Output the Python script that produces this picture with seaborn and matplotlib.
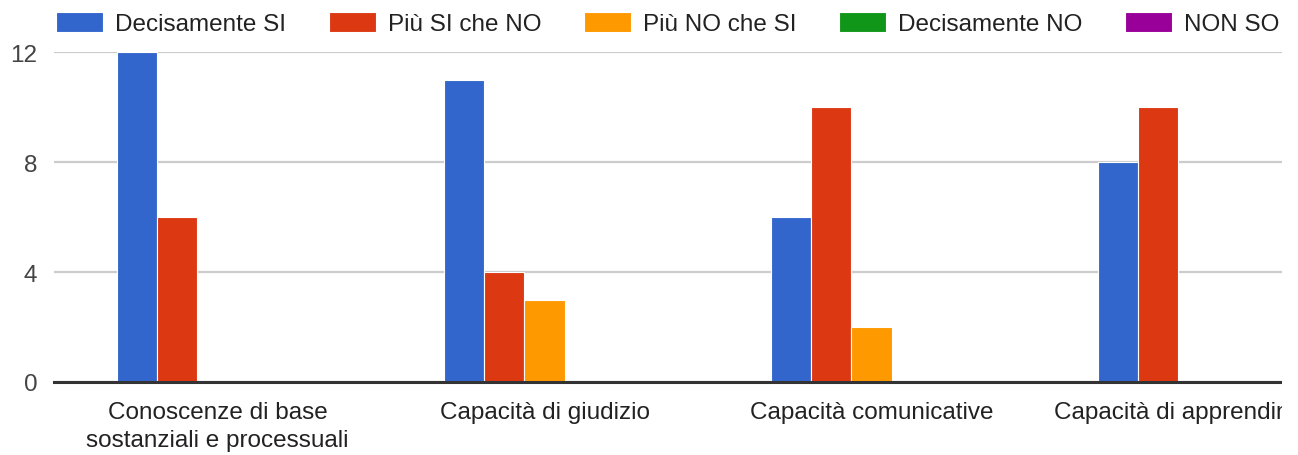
import matplotlib
matplotlib.use("Agg")
import matplotlib.pyplot as plt
from matplotlib.patches import Rectangle
import pandas as pd
import seaborn as sns

categories = ["Conoscenze di base\nsostanziali e processuali", "Capacità di giudizio",
              "Capacità comunicative", "Capacità di apprendimento"]
series = ["Decisamente SI", "Più SI che NO", "Più NO che SI", "Decisamente NO", "NON SO"]
decisamente_si = [12, 11, 6, 8]
piu_si = [6, 4, 10, 10]
piu_no = [0, 3, 2, 0]
decisamente_no = [0, 0, 0, 0]
non_so = [0, 0, 0, 0]
colors = ["#3366CC", "#DC3912", "#FF9900", "#109618", "#990099"]

values = [decisamente_si, piu_si, piu_no, decisamente_no, non_so]
df = pd.DataFrame([(c, s, v[i]) for s, v in zip(series, values)
                   for i, c in enumerate(categories)],
                  columns=["cat", "serie", "count"])

sns.set_theme(style="white")
plt.rcParams["font.family"] = ["Liberation Sans", "DejaVu Sans"]

W, H = 1298, 456
FS = 17.5
fig = plt.figure(figsize=(W / 100, H / 100), dpi=100)
# the original chart is cut on the right edge, so the axes run past the figure
ax = fig.add_axes([54 / W, 73 / H, 1308 / W, 330 / H])

sns.barplot(data=df, x="cat", y="count", hue="serie", order=categories,
            hue_order=series, palette=colors, width=0.612, ax=ax,
            edgecolor="white", linewidth=0.8, saturation=1, errorbar=None)

ax.set_xlim(-0.5, 3.5)
ax.set_ylim(0, 12)
ax.set_yticks([0, 4, 8, 12])
ax.set_xlabel("")
ax.set_ylabel("")
ax.yaxis.grid(True, color="#cccccc", linewidth=1.6)
ax.set_axisbelow(True)
for side in ["top", "right", "left"]:
    ax.spines[side].set_visible(False)
ax.spines["bottom"].set_color("#333333")
ax.spines["bottom"].set_linewidth(2.2)
ax.spines["bottom"].set_zorder(5)
ax.tick_params(axis="y", length=0, pad=12, labelsize=FS, labelcolor="#444444")
ax.tick_params(axis="x", length=0, pad=14, labelsize=FS, labelcolor="#222222")
for lab in ax.get_xticklabels():
    lab.set_linespacing(1.35)

handles, labels = ax.get_legend_handles_labels()
ax.get_legend().remove()
fig.legend(handles, labels, loc="upper left", bbox_to_anchor=(56 / W, 1 - 13 / H),
           ncol=5, frameon=False, fontsize=FS, handlelength=1.93,
           handleheight=0.9, handletextpad=0.5, columnspacing=1.75,
           borderaxespad=0, borderpad=0, labelcolor="#222222")

# blank strip on the right where the source image was cropped
fig.patches.append(Rectangle((1282 / W, 0), 1 - 1282 / W, 1, transform=fig.transFigure,
                             facecolor="white", edgecolor="none", zorder=10))

fig.savefig("out.png", dpi=100)
